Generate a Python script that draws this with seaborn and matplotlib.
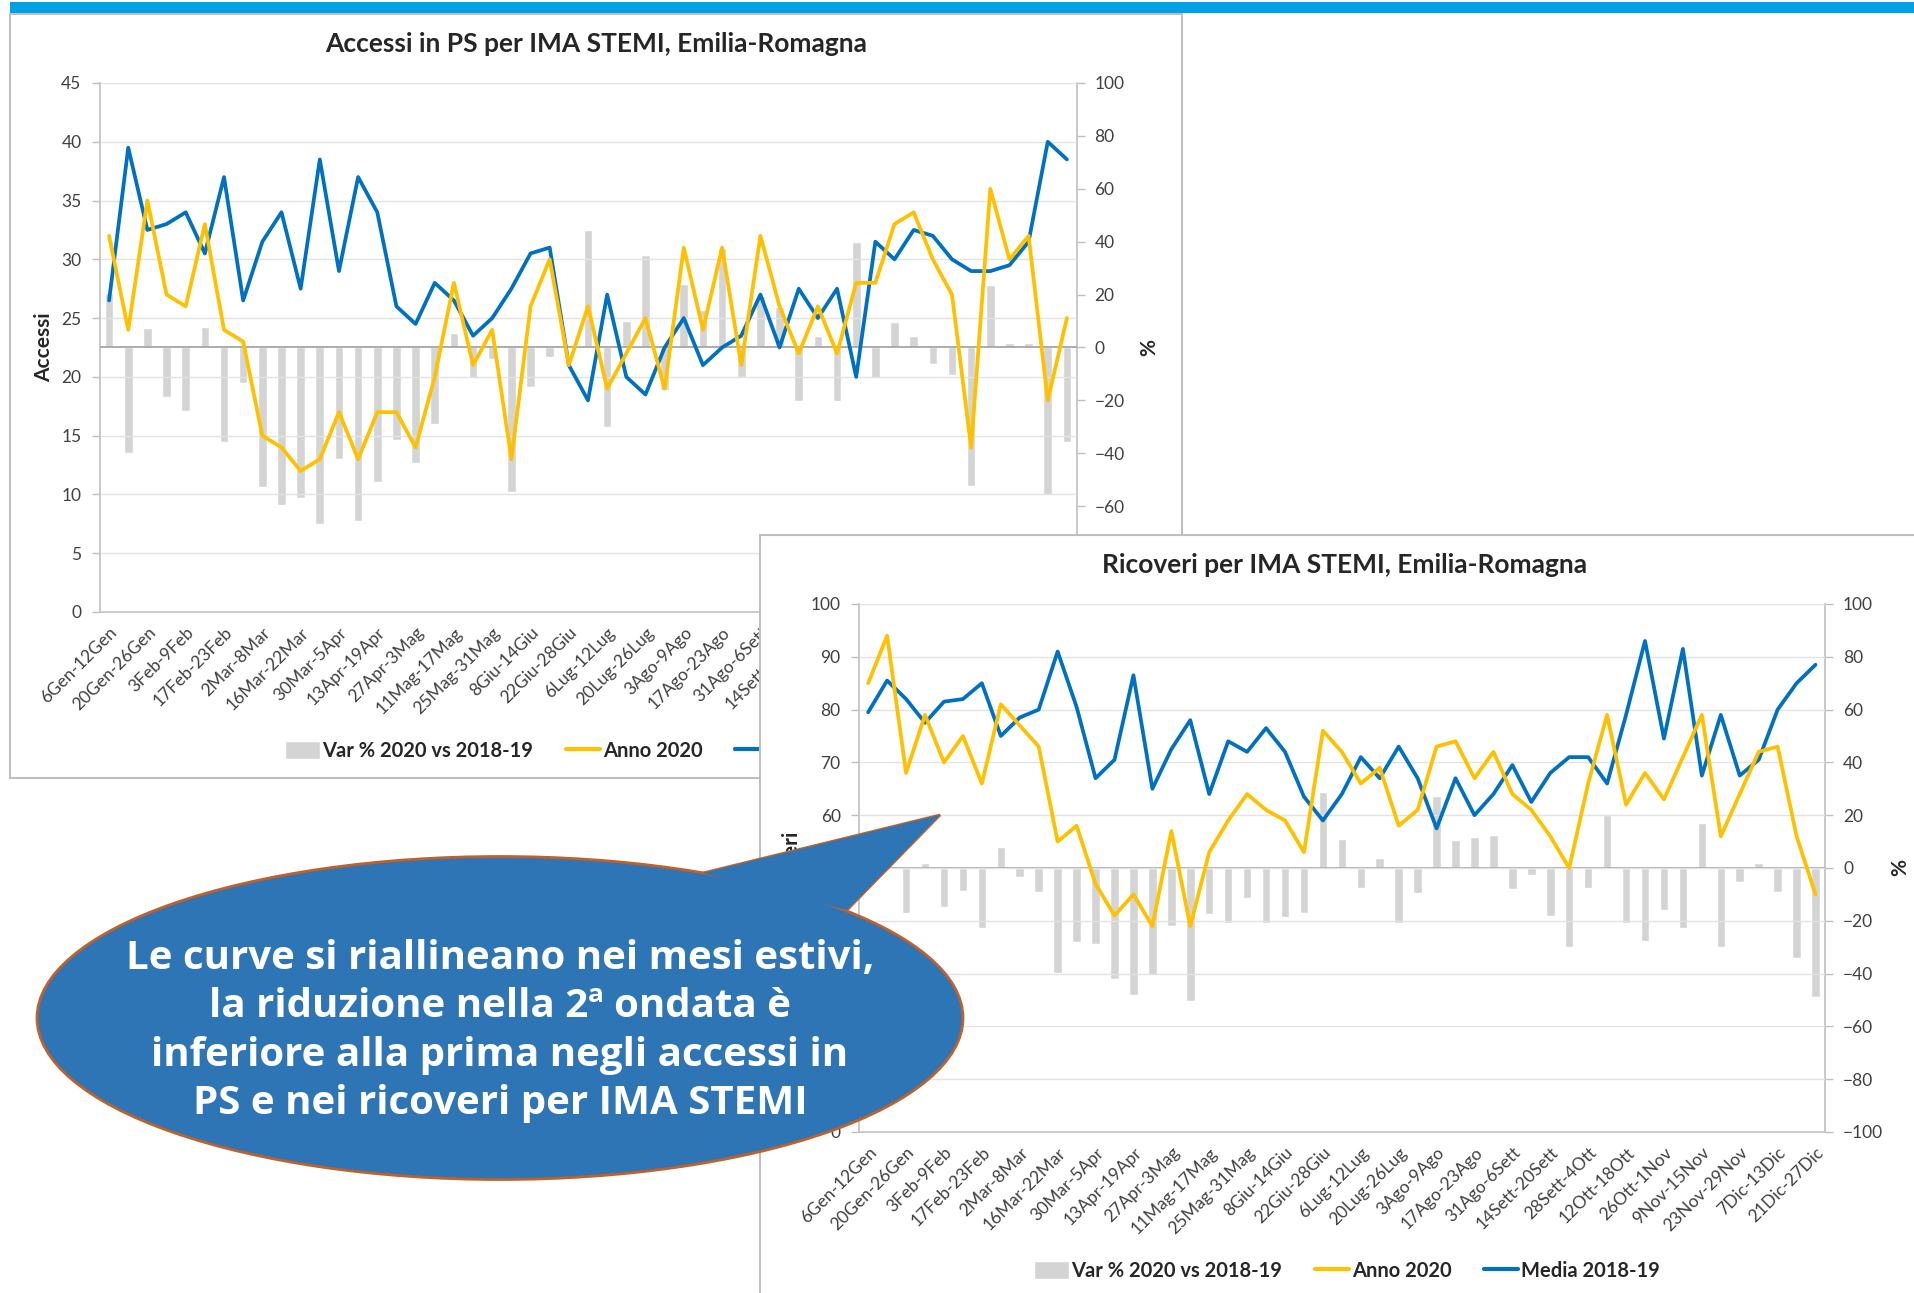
import numpy as np
import pandas as pd
import seaborn as sns
import matplotlib.pyplot as plt
from matplotlib.patches import Ellipse, Polygon, Rectangle, Patch
from matplotlib.lines import Line2D

# labels shown on the x axis (one every two weeks, 51 weeks in total)
week_labels = ["6Gen-12Gen", "20Gen-26Gen", "3Feb-9Feb", "17Feb-23Feb", "2Mar-8Mar",
               "16Mar-22Mar", "30Mar-5Apr", "13Apr-19Apr", "27Apr-3Mag", "11Mag-17Mag",
               "25Mag-31Mag", "8Giu-14Giu", "22Giu-28Giu", "6Lug-12Lug", "20Lug-26Lug",
               "3Ago-9Ago", "17Ago-23Ago", "31Ago-6Sett", "14Sett-20Sett", "28Sett-4Ott",
               "12Ott-18Ott", "26Ott-1Nov", "9Nov-15Nov", "23Nov-29Nov", "7Dic-13Dic",
               "21Dic-27Dic"]

# Accessi in PS
acc_anno2020 = [32, 24, 35, 27, 26, 33, 24, 23, 15, 14, 12, 13, 17, 13, 17, 17, 14, 20, 28, 21,
                24, 13, 26, 30, 21, 26, 19, 22, 25, 19, 31, 24, 31, 21, 32, 26, 22, 26, 22, 28,
                28, 33, 34, 30, 27, 14, 36, 30, 32, 18, 25]
acc_media1819 = [26.5, 39.5, 32.5, 33, 34, 30.5, 37, 26.5, 31.5, 34, 27.5, 38.5, 29, 37, 34, 26,
                 24.5, 28, 26.5, 23.5, 25, 27.5, 30.5, 31, 21, 18, 27, 20, 18.5, 22.5, 25, 21,
                 22.5, 23.5, 27, 22.5, 27.5, 25, 27.5, 20, 31.5, 30, 32.5, 32, 30, 29, 29, 29.5,
                 31.5, 40, 38.5]
acc_var = [20.5, -39.8, 7.5, -18.8, -24.0, 7.7, -35.8, -13.6, -52.8, -59.6, -56.9, -66.9, -42.0,
           -65.6, -50.7, -35.1, -43.6, -29.0, 5.4, -11.4, -4.3, -54.5, -15.0, -3.6, 0.0, 44.3,
           -30.0, 10.0, 35.0, -16.1, 24.0, 14.2, 37.5, -11.0, 19.5, 15.3, -20.4, 4.2, -20.4, 39.7,
           -11.4, 9.6, 4.5, -6.4, -10.4, -52.4, 23.8, 1.8, 1.8, -55.6, -35.8]

# Ricoveri
ric_anno2020 = [85, 94, 68, 79, 70, 75, 66, 81, 77, 73, 55, 58, 47, 41, 45, 39, 57, 39, 53, 59,
                64, 61, 59, 53, 76, 72, 66, 69, 58, 61, 73, 74, 67, 72, 64, 61, 56, 50, 66, 79,
                62, 68, 63, 71, 79, 56, 64, 72, 73, 56, 45]
ric_media1819 = [79.5, 85.5, 82, 77.5, 81.5, 82, 85, 75, 78.5, 80, 91, 80.5, 67, 70.5, 86.5, 65,
                 72.5, 78, 64, 74, 72, 76.5, 72, 63.5, 59, 64, 71, 67, 73, 67, 57.5, 67, 60, 64,
                 69.5, 62.5, 68, 71, 71, 66, 79, 93, 74.5, 91.5, 67.5, 79, 67.5, 70.5, 80, 85, 88.5]
ric_var = [7.0, 10.0, -16.9, 2.0, -14.6, -8.8, -22.7, 8.1, -3.4, -9.1, -39.9, -28.1, -28.8, -42.0,
           -48.1, -40.6, -21.9, -50.3, -17.6, -20.7, -11.2, -20.7, -18.5, -16.9, 28.8, 10.8, -7.4,
           3.8, -21.0, -9.5, 27.1, 10.6, 11.8, 12.6, -8.1, -2.7, -18.3, -30.0, -7.4, 19.9, -21.0,
           -27.5, -15.8, -22.6, 16.9, -29.8, -5.4, 1.8, -9.1, -34.1, -49.0]

callout = ("Le curve si riallineano nei mesi estivi,\nla riduzione nella 2ª ondata è\n"
           "inferiore alla prima negli accessi in\nPS e nei ricoveri per IMA STEMI")

GRAY = "#D4D4D4"
YELLOW = "#FFC000"
BLUE = "#0070C0"
GRID = "#E3E3E3"
AXC = "#BFBFBF"
TXT = "#404040"

sns.set_style("white")
plt.rcParams['font.family'] = ['Lato', 'DejaVu Sans']

W, H = 1914, 1293
fig = plt.figure(figsize=(W / 100, H / 100), dpi=100)


def box(l, t, r, b):
    return [l / W, 1 - b / H, (r - l) / W, (b - t) / H]


def layer(z):
    a = fig.add_axes([0, 0, 1, 1], zorder=z)
    a.set_xlim(0, W)
    a.set_ylim(H, 0)
    a.axis('off')
    return a


def legend(a, x, y):
    handles = [Patch(facecolor=GRAY), Line2D([], [], color=YELLOW, lw=3),
               Line2D([], [], color=BLUE, lw=3)]
    a.legend(handles, ["Var % 2020 vs 2018-19", "Anno 2020", "Media 2018-19"],
             loc='center', bbox_to_anchor=(x, y), bbox_transform=a.transData, ncol=3,
             frameon=False, prop={'weight': 'bold', 'size': 14.5}, handlelength=1.7,
             handleheight=1.0, handletextpad=0.15, columnspacing=1.6, labelcolor='#262626')


def chart(rect, z, anno, media, var, ymax, ystep, ylabel, lab_x, pct_x):
    axb = fig.add_axes(rect, zorder=z)
    axb.set_facecolor('none')
    axl = axb.twinx()
    axl.set_zorder(z + 1)
    df = pd.DataFrame({'week': np.arange(len(var)), 'var': var, 'anno': anno, 'media': media})
    sns.barplot(data=df, x='week', y='var', ax=axb, color=GRAY, saturation=1, width=0.45,
                native_scale=True, errorbar=None)
    axb.axhline(0, color='#A6A6A6', lw=1.3, zorder=3)
    sns.lineplot(data=df, x='week', y='media', ax=axl, color=BLUE, lw=2.7, errorbar=None,
                 legend=False)
    sns.lineplot(data=df, x='week', y='anno', ax=axl, color=YELLOW, lw=2.7, errorbar=None,
                 legend=False)
    axb.set_xlim(-0.5, len(var) - 0.5)
    axb.set_ylim(-100, 100)
    axb.set_yticks(np.arange(-100, 101, 20))
    axl.set_ylim(0, ymax)
    axl.set_yticks(np.arange(0, ymax + 1, ystep))
    axb.yaxis.tick_right()
    axb.yaxis.set_label_position('right')
    axl.yaxis.tick_left()
    axl.yaxis.set_label_position('left')
    axl.yaxis.grid(True, color=GRID, lw=1)
    axl.set_axisbelow(True)

    axb.set_xticks(np.arange(0, len(var), 2))
    axb.set_xticklabels(week_labels, rotation=45, ha='right', rotation_mode='anchor')
    axb.set_xticks(np.arange(-0.5, len(var), 1), minor=True)
    axb.tick_params(axis='x', which='major', length=0, pad=9, labelsize=12.5, labelcolor=TXT)
    axb.tick_params(axis='x', which='minor', length=6, color=AXC, width=1)
    for a in (axb, axl):
        a.tick_params(axis='y', length=6, color=AXC, width=1, labelsize=12.5, labelcolor=TXT,
                      pad=7)
        for s in a.spines.values():
            s.set_visible(False)
    for s in ('left', 'right', 'bottom'):
        axb.spines[s].set_visible(True)
        axb.spines[s].set_color(AXC)
        axb.spines[s].set_linewidth(1.2)
    axb.set_xlabel('')
    axl.set_xlabel('')
    axl.set_ylabel(ylabel, fontsize=15, fontweight='bold', color='#262626')
    axl.yaxis.set_label_coords(lab_x, 0.5)
    axb.set_ylabel('%', fontsize=15, fontweight='bold', color='#262626')
    axb.yaxis.set_label_coords(pct_x, 0.5)
    return axb, axl


# chart 1 background, title and legend
bg1 = layer(0)
bg1.add_patch(Rectangle((10, 2), W, 11, facecolor='#00A0E6', edgecolor='none'))
bg1.add_patch(Rectangle((10, 14), 1172, 764, facecolor='white', edgecolor=AXC, lw=1.5))
bg1.text(596, 44, "Accessi in PS per IMA STEMI, Emilia-Romagna", ha='center', va='center',
         fontsize=19, fontweight='bold', color='#262626')
legend(bg1, 598, 751)

chart(box(99.5, 83, 1076.5, 612), 1, acc_anno2020, acc_media1819, acc_var, 45, 5,
      'Accessi', -0.046, 1.064)

# chart 2 background, title and legend
bg2 = layer(3)
bg2.add_patch(Rectangle((760, 535), 1200, 800, facecolor='white', edgecolor=AXC, lw=1.5))
bg2.text(1345, 565, "Ricoveri per IMA STEMI, Emilia-Romagna", ha='center', va='center',
         fontsize=19, fontweight='bold', color='#262626')
legend(bg2, 1347, 1271)

chart(box(858.7, 604, 1825, 1132), 4, ric_anno2020, ric_media1819, ric_var, 100, 10,
      'Ricoveri', -0.06, 1.068)

# speech bubble
ov = layer(6)
FILL = '#2E75B6'
EDGE = '#C0602A'
tip = [(703, 873), (940, 815), (847, 910)]
ov.add_patch(Polygon(tip, closed=True, facecolor=FILL, edgecolor=EDGE, lw=2, zorder=1))
ov.add_patch(Ellipse((500, 1018), 926, 323, facecolor=FILL, edgecolor=EDGE, lw=2, zorder=2))
ov.add_patch(Polygon(tip, closed=True, facecolor=FILL, edgecolor='none', lw=0, zorder=3))
ov.text(500, 1031, callout, ha='center', va='center', color='white', fontsize=29,
        fontweight='bold', linespacing=1.32, zorder=4, family=['Open Sans', 'DejaVu Sans'])

fig.savefig('out.png', dpi=100)
